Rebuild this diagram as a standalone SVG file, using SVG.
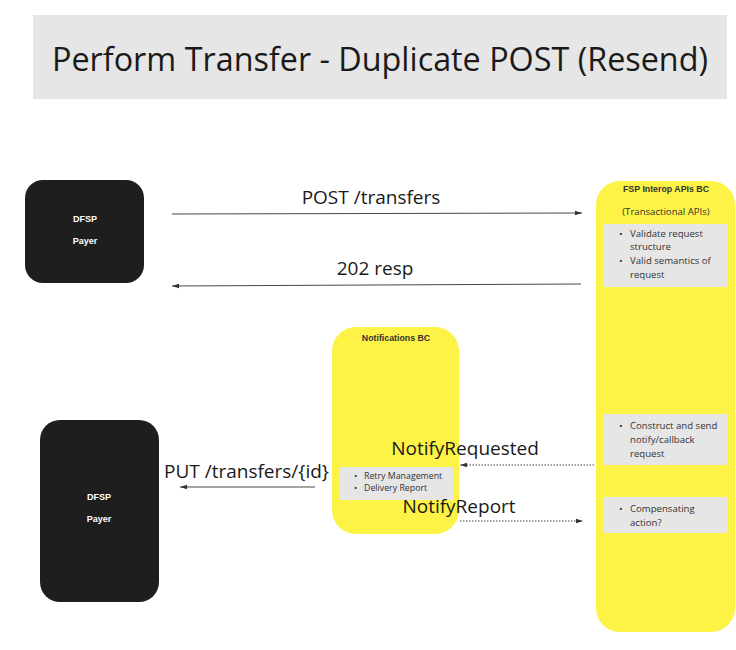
<svg xmlns="http://www.w3.org/2000/svg" width="736" height="650" viewBox="0 0 736 650">
<defs>
<style>
.lbl{font-family:"Open Sans","Liberation Sans",sans-serif;font-size:19px;fill:#1a1a1a}
.dark{fill:#1e1e1e}
.dtxt{font-family:"Liberation Sans",Arial,sans-serif;font-size:9px;font-weight:bold;fill:#ffffff;text-anchor:middle}
.yel{fill:#fdf246}
.gray{fill:#e6e6e6}
.ttl{font-family:"Liberation Sans",Arial,sans-serif;font-size:8.8px;font-weight:bold;fill:#333333;text-anchor:middle}
.sm{font-family:"Open Sans","Liberation Sans",sans-serif;font-size:9.6px;fill:#333333}
.sm8{font-family:"Open Sans","Liberation Sans",sans-serif;font-size:8.8px;fill:#333333}
.ln{stroke:#333333;stroke-width:0.9;fill:none}
.dot{stroke:#444444;stroke-width:1;fill:none;stroke-dasharray:1.5,1.5}
</style>
<marker id="ah" markerWidth="8" markerHeight="6" refX="7" refY="3" orient="auto" markerUnits="userSpaceOnUse">
<path d="M0,0.8 L7,3 L0,5.2 Z" fill="#333333"/>
</marker>
</defs>
<rect width="736" height="650" fill="#ffffff"/>
<g id="title">
<rect x="33" y="15" width="694" height="84" class="gray"/>
<text x="52" y="71" font-family="Open Sans, Liberation Sans, sans-serif" font-size="33" fill="#1a1a1a" textLength="656" lengthAdjust="spacingAndGlyphs">Perform Transfer - Duplicate POST (Resend)</text>
</g>
<g id="dfsp-payer-1">
<rect x="25" y="180" width="119" height="103" rx="18" class="dark"/>
<text x="85" y="222" class="dtxt">DFSP</text>
<text x="85" y="244" class="dtxt">Payer</text>
</g>
<g id="dfsp-payer-2">
<rect x="40" y="420" width="119" height="182" rx="20" class="dark"/>
<text x="99" y="500" class="dtxt">DFSP</text>
<text x="99" y="522" class="dtxt">Payer</text>
</g>
<g id="notifications-bc">
<rect x="332" y="327" width="127" height="207" rx="24" class="yel"/>
<text x="396" y="341" class="ttl">Notifications BC</text>
<rect x="340" y="467" width="113" height="33" class="gray"/>
<text x="354" y="479" class="sm8">•</text>
<text x="364" y="479" class="sm8">Retry Management</text>
<text x="354" y="491" class="sm8">•</text>
<text x="364" y="491" class="sm8">Delivery Report</text>
</g>
<g id="fsp-interop-apis-bc">
<rect x="596" y="181" width="139" height="451" rx="24" class="yel"/>
<text x="666" y="192" class="ttl">FSP Interop APIs BC</text>
<text x="666" y="215" class="sm" text-anchor="middle">(Transactional APIs)</text>
<rect x="603" y="224" width="124" height="63" class="gray"/>
<text x="619" y="237" class="sm">•</text>
<text x="630" y="237" class="sm">Validate request</text>
<text x="630" y="250" class="sm">structure</text>
<text x="619" y="264" class="sm">•</text>
<text x="630" y="264" class="sm">Valid semantics of</text>
<text x="630" y="278" class="sm">request</text>
<rect x="603" y="414" width="124" height="51" class="gray"/>
<text x="619" y="429" class="sm">•</text>
<text x="630" y="429" class="sm">Construct and send</text>
<text x="630" y="443" class="sm">notify/callback</text>
<text x="630" y="457" class="sm">request</text>
<rect x="603" y="497" width="124" height="36" class="gray"/>
<text x="619" y="512" class="sm">•</text>
<text x="630" y="512" class="sm">Compensating</text>
<text x="630" y="526" class="sm">action?</text>
</g>
<g id="connectors">
<line x1="172" y1="214" x2="582" y2="213" class="ln" marker-end="url(#ah)"/>
<text x="371" y="204" class="lbl" text-anchor="middle">POST /transfers</text>
<line x1="581" y1="284" x2="172" y2="286" class="ln" marker-end="url(#ah)"/>
<text x="375" y="275" class="lbl" text-anchor="middle">202 resp</text>
<line x1="315" y1="487" x2="180" y2="487" class="ln" marker-end="url(#ah)"/>
<text x="164" y="478" class="lbl">PUT /transfers/{id}</text>
<line x1="594" y1="465" x2="460" y2="465" class="dot" marker-end="url(#ah)"/>
<text x="465" y="455" class="lbl" text-anchor="middle">NotifyRequested</text>
<line x1="460" y1="521" x2="583" y2="521" class="dot" marker-end="url(#ah)"/>
<text x="459" y="513" class="lbl" text-anchor="middle">NotifyReport</text>
</g>
</svg>
